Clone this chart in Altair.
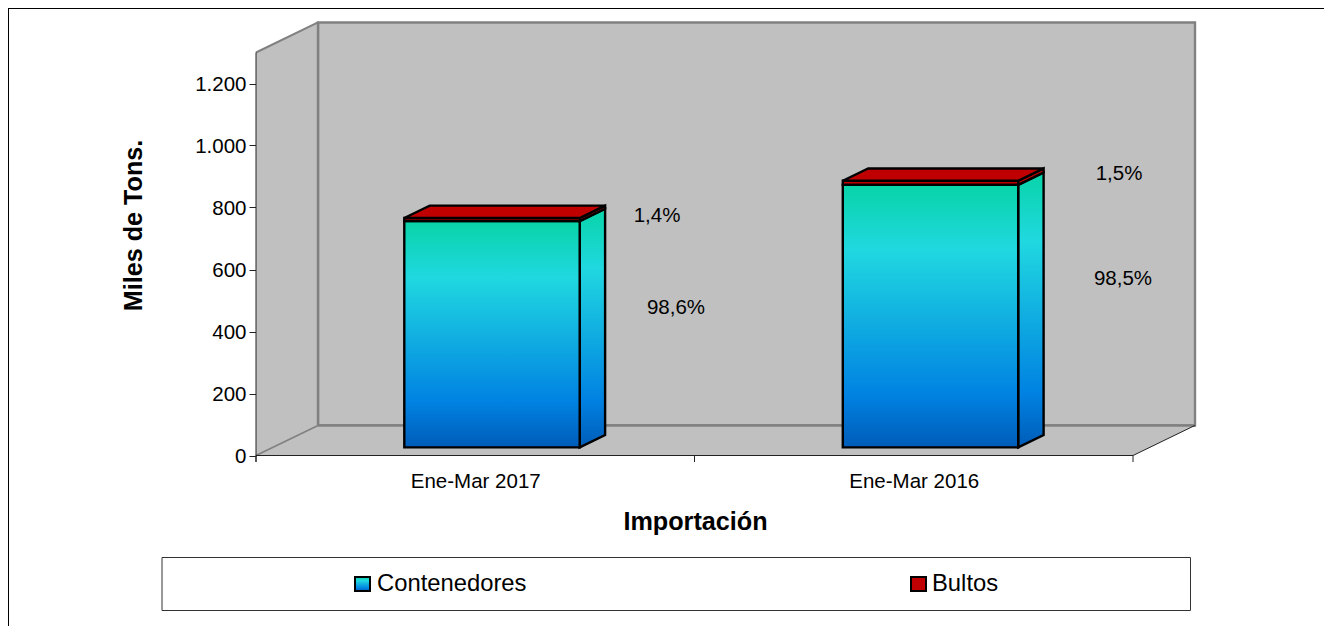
import altair as alt
import pandas as pd

categories = ["Ene-Mar 2017", "Ene-Mar 2016"]
contenedores = [730, 847]
bultos = [10, 13]
share_labels = [["1,4%", "98,6%"], ["1,5%", "98,5%"]]
y_ticks = [0, 200, 400, 600, 800, 1000, 1200]
series_names = ["Contenedores", "Bultos"]

W, H = 1316, 618
PX_X = 438.5        # pixels per category
PX_Y = 0.31         # pixels per thousand tons
X0, Y0 = 248, 447.5 # origin of the front plane inside the plot
AXMAX = 1300
DX, DY = 62 / PX_X, 97     # depth of the floor in axis units
BAR_W = 0.4
BD0, BD1 = 0.27, 0.68      # bar depth extent

FONT = "Liberation Sans"
x_scale = alt.Scale(domain=[-X0 / PX_X, (W - X0) / PX_X], nice=False, zero=False)
y_scale = alt.Scale(domain=[-(H - Y0) / PX_Y, Y0 / PX_Y], nice=False, zero=False)

GRAD = alt.Gradient(
    gradient="linear", x1=0, y1=0, x2=0, y2=1,
    stops=[
        alt.GradientStop(offset=0, color="#08D4A8"),
        alt.GradientStop(offset=0.25, color="#20D8E0"),
        alt.GradientStop(offset=0.8, color="#0082E2"),
        alt.GradientStop(offset=1, color="#005CB8"),
    ],
)
RED = "#C00000"
WALL = "#C0C0C0"
GREY = "#808080"
DARK = "#222222"


def X():
    return alt.X("x:Q", scale=x_scale)


def Y():
    return alt.Y("y:Q", scale=y_scale)


def poly(points, **mark):
    df = pd.DataFrame(points, columns=["x", "y", "y2"])
    return alt.Chart(df).mark_area(**mark).encode(X(), Y(), alt.Y2("y2:Q"))


def box(x, x2, y, y2, **mark):
    df = pd.DataFrame({"x": [x], "x2": [x2], "y": [y], "y2": [y2]})
    return alt.Chart(df).mark_rect(**mark).encode(X(), alt.X2("x2:Q"), Y(), alt.Y2("y2:Q"))


def seg(x, y, x2, y2, color, width):
    df = pd.DataFrame({"x": [x], "x2": [x2], "y": [y], "y2": [y2]})
    return alt.Chart(df).mark_rule(color=color, strokeWidth=width).encode(
        X(), alt.X2("x2:Q"), Y(), alt.Y2("y2:Q"))


def pixel_text(text, px, py, **mark):
    df = pd.DataFrame({"t": [text]})
    style = dict(font=FONT, fontSize=20.5, color="#000000", align="center", baseline="middle")
    style.update(mark)
    return alt.Chart(df).mark_text(**style).encode(
        x=alt.value(px - 8), y=alt.value(py - 8), text="t:N")


def pixel_box(px, py, px2, py2, **mark):
    df = pd.DataFrame({"a": [0]})
    return alt.Chart(df).mark_rect(**mark).encode(
        x=alt.value(px - 8), x2=alt.value(px2 - 8), y=alt.value(py - 8), y2=alt.value(py2 - 8))


layers = []

# axes, carried by an invisible layer
axis_df = pd.DataFrame({"x": [0.0, 2.0], "y": [0, 1300]})
layers.append(
    alt.Chart(axis_df).mark_point(opacity=0).encode(
        alt.X("x:Q", scale=x_scale, axis=alt.Axis(
            title="Importación", values=[0.5, 1.5], ticks=False, domain=False, grid=False,
            labelExpr=f"datum.value < 1 ? '{categories[0]}' : '{categories[1]}'",
            labelFont=FONT, labelFontSize=20.5, labelColor="#000000", labelPadding=16, labelAngle=0,
            offset=-(H - Y0), titleFont=FONT, titleFontSize=25.2, titleFontWeight="bold",
            titleColor="#000000", titleX=687, titleY=66, titleBaseline="middle")),
        alt.Y("y:Q", scale=y_scale, axis=alt.Axis(
            title="Miles de Tons.", values=y_ticks, domain=False, grid=False, tickSize=7,
            tickColor=DARK, labelFont=FONT, labelFontSize=20.5, labelColor="#000000", labelPadding=3,
            labelOffset=1,
            labelExpr="replace(format(datum.value, ','), ',', '.')",
            offset=-X0, titleFont=FONT, titleFontSize=25.2, titleFontWeight="bold",
            titleColor="#000000", titleAngle=270, titleX=-123, titleY=217, titleBaseline="middle")),
    )
)

# walls and floor
layers.append(box(DX, 2 + DX, DY, AXMAX + DY, fill=WALL, stroke=GREY, strokeWidth=2.4))
layers.append(poly([(0, 0, AXMAX), (DX, DY, AXMAX + DY)], color=WALL))
layers.append(poly([(0, 0, 0), (DX, 0, DY), (2, 0, DY), (2 + DX, DY, DY)], color=WALL))
layers.append(seg(DX, DY, DX, AXMAX + DY, GREY, 2.4))
layers.append(seg(DX, DY, 2 + DX, DY, GREY, 2.4))
layers.append(seg(0, AXMAX, DX, AXMAX + DY, GREY, 2))
layers.append(seg(0, 0, DX, DY, GREY, 1.6))
layers.append(seg(2, 0, 2 + DX, DY, DARK, 1))
layers.append(seg(0, -21, 0, AXMAX, DARK, 1))
layers.append(seg(0, 0, 2, 0, DARK, 1))
for t in [0, 1, 2]:
    layers.append(seg(t, -21, t, 0, DARK, 1))

# stacked 3D bars
for i in range(len(categories)):
    left = i + 0.5 - BAR_W / 2 + BD0 * DX
    right = left + BAR_W
    bdx = (BD1 - BD0) * DX
    base = BD0 * DY
    bdy = (BD1 - BD0) * DY
    bottom = base
    for value, fill in [(contenedores[i], GRAD), (bultos[i], RED)]:
        top = bottom + value
        layers.append(poly([(right, bottom, top), (right + bdx, bottom + bdy, top + bdy)],
                           fill=fill, stroke="#000000", strokeWidth=2.4))
        layers.append(box(left, right, bottom, top, fill=fill, stroke="#000000", strokeWidth=2.4))
        bottom = top
    layers.append(poly([(left, bottom, bottom), (left + bdx, bottom, bottom + bdy),
                        (right, bottom, bottom + bdy), (right + bdx, bottom + bdy, bottom + bdy)],
                       fill=RED, stroke="#000000", strokeWidth=2.4))

# share labels
layers.append(pixel_text(share_labels[0][0], 657, 216))
layers.append(pixel_text(share_labels[0][1], 676, 308))
layers.append(pixel_text(share_labels[1][0], 1119, 174))
layers.append(pixel_text(share_labels[1][1], 1123, 279))

# legend
layers.append(pixel_box(162, 557.5, 1190.5, 610.5, fill="#FFFFFF", stroke="#333333", strokeWidth=1))
layers.append(pixel_box(355, 577, 370, 591, fill=GRAD, stroke="#000000", strokeWidth=2))
layers.append(pixel_text(series_names[0], 377, 584, align="left", fontSize=23.8))
layers.append(pixel_box(911, 577, 926, 591, fill=RED, stroke="#000000", strokeWidth=2))
layers.append(pixel_text(series_names[1], 932, 584, align="left", fontSize=23.8))

# outer frame (runs past the right and bottom edges of the picture)
frame = pd.DataFrame({"a": [0]})
layers.append(alt.Chart(frame).mark_rule(color="#000000", strokeWidth=1).encode(
    x=alt.value(0.5), y=alt.value(0), y2=alt.value(H)))
layers.append(alt.Chart(frame).mark_rule(color="#000000", strokeWidth=1).encode(
    y=alt.value(0.5), x=alt.value(0), x2=alt.value(W)))

chart = alt.layer(*layers).properties(
    width=W, height=H, padding=0,
    autosize=alt.AutoSizeParams(type="none"),
    background="#FFFFFF",
).configure_view(stroke=None)

chart.save("out.html", embed_options={"renderer": "svg", "actions": False})
